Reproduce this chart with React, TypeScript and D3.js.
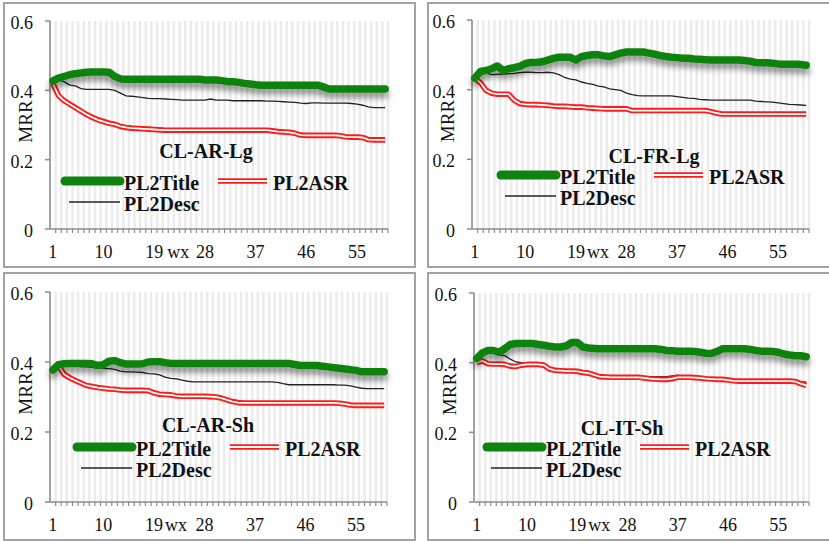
import React from "react";
import * as d3 from "d3";

// x categories (rank cut-off) and tick labels
const categories = d3.range(1, 61);
const xTickLabels = [1, 10, 19, 28, 37, 46, 55];
const yTicks = [0, 0.2, 0.4, 0.6];
const panelTitles = ["CL-AR-Lg", "CL-FR-Lg", "CL-AR-Sh", "CL-IT-Sh"];

// CL-AR-Lg
const arLgTitle = [
  0.427, 0.435, 0.44, 0.445, 0.448, 0.45, 0.452, 0.453, 0.453, 0.453,
  0.452, 0.44, 0.433, 0.432, 0.432, 0.432, 0.432, 0.432, 0.432, 0.432,
  0.432, 0.432, 0.432, 0.432, 0.432, 0.432, 0.432, 0.43, 0.43, 0.43,
  0.428, 0.425, 0.425, 0.423, 0.42, 0.418, 0.416, 0.415, 0.415, 0.415,
  0.415, 0.415, 0.415, 0.415, 0.415, 0.415, 0.415, 0.415, 0.41, 0.404,
  0.404, 0.404, 0.404, 0.404, 0.404, 0.404, 0.404, 0.404, 0.404, 0.404,
];
const arLgAsr = [
  0.42, 0.385, 0.37, 0.36, 0.35, 0.34, 0.33, 0.322, 0.315, 0.31,
  0.305, 0.302, 0.296, 0.293, 0.291, 0.29, 0.289, 0.288, 0.287, 0.286,
  0.285, 0.285, 0.285, 0.285, 0.285, 0.285, 0.285, 0.285, 0.285, 0.285,
  0.285, 0.285, 0.285, 0.285, 0.285, 0.285, 0.285, 0.285, 0.285, 0.283,
  0.281, 0.28, 0.279, 0.276, 0.271, 0.27, 0.27, 0.27, 0.27, 0.27,
  0.27, 0.269, 0.266, 0.265, 0.265, 0.264, 0.258, 0.257, 0.257, 0.257,
];
const arLgDesc = [
  0.425, 0.43, 0.425, 0.415, 0.413, 0.405, 0.403, 0.403, 0.403, 0.403,
  0.403, 0.4, 0.392, 0.384, 0.383, 0.381, 0.379, 0.377, 0.376, 0.376,
  0.375, 0.374, 0.373, 0.372, 0.372, 0.372, 0.372, 0.372, 0.375, 0.372,
  0.372, 0.372, 0.37, 0.37, 0.37, 0.37, 0.37, 0.37, 0.369, 0.369,
  0.368, 0.367, 0.366, 0.365, 0.363, 0.362, 0.364, 0.364, 0.363, 0.363,
  0.363, 0.363, 0.363, 0.362, 0.36, 0.357, 0.352, 0.35, 0.35, 0.35,
];

// CL-FR-Lg
const frLgTitle = [
  0.433, 0.452, 0.455, 0.46, 0.468, 0.455, 0.46, 0.463, 0.467, 0.475,
  0.478, 0.478, 0.48, 0.485, 0.49, 0.493, 0.493, 0.493, 0.485, 0.495,
  0.498, 0.5, 0.5, 0.497, 0.495, 0.5, 0.505, 0.508, 0.508, 0.508,
  0.508, 0.505, 0.502, 0.498, 0.495, 0.493, 0.492, 0.49, 0.49, 0.488,
  0.487, 0.486, 0.485, 0.485, 0.485, 0.485, 0.485, 0.485, 0.484, 0.482,
  0.478, 0.477, 0.477, 0.476, 0.474, 0.473, 0.473, 0.473, 0.472, 0.47,
];
const frLgAsr = [
  0.433, 0.42, 0.398, 0.39, 0.387, 0.387, 0.387, 0.37, 0.36, 0.358,
  0.357, 0.357, 0.356, 0.355, 0.353, 0.352, 0.352, 0.351, 0.35, 0.35,
  0.348, 0.347, 0.346, 0.345, 0.345, 0.345, 0.345, 0.345, 0.34, 0.34,
  0.34, 0.34, 0.34, 0.34, 0.34, 0.34, 0.34, 0.34, 0.34, 0.34,
  0.34, 0.34, 0.337, 0.333, 0.33, 0.33, 0.33, 0.33, 0.33, 0.33,
  0.33, 0.33, 0.33, 0.33, 0.33, 0.33, 0.33, 0.33, 0.33, 0.33,
];
const frLgDesc = [
  0.44, 0.453, 0.448, 0.443, 0.444, 0.445, 0.446, 0.447, 0.449, 0.45,
  0.45, 0.449, 0.449, 0.45, 0.448, 0.443, 0.435, 0.43, 0.428, 0.422,
  0.418, 0.415, 0.41, 0.408, 0.402, 0.4, 0.398, 0.39, 0.386, 0.383,
  0.382, 0.382, 0.382, 0.382, 0.382, 0.382, 0.38, 0.378, 0.376, 0.375,
  0.372, 0.371, 0.37, 0.37, 0.37, 0.37, 0.37, 0.37, 0.37, 0.37,
  0.367, 0.366, 0.365, 0.364, 0.362, 0.36, 0.358, 0.357, 0.356, 0.355,
];

// CL-AR-Sh
const arShTitle = [
  0.377, 0.392, 0.395, 0.396, 0.396, 0.396, 0.396, 0.395, 0.39, 0.392,
  0.402, 0.404, 0.398, 0.394, 0.394, 0.394, 0.395, 0.4, 0.401, 0.401,
  0.398, 0.396, 0.396, 0.396, 0.396, 0.396, 0.396, 0.396, 0.396, 0.396,
  0.396, 0.396, 0.396, 0.396, 0.396, 0.396, 0.396, 0.396, 0.396, 0.396,
  0.396, 0.396, 0.396, 0.393, 0.39, 0.39, 0.39, 0.39, 0.388, 0.386,
  0.384, 0.382, 0.38, 0.378, 0.376, 0.372, 0.372, 0.372, 0.372, 0.372,
];
const arShAsr = [
  0.38, 0.39, 0.365, 0.355, 0.347, 0.34, 0.333, 0.33, 0.327, 0.325,
  0.323, 0.322, 0.32, 0.319, 0.319, 0.319, 0.319, 0.318, 0.312, 0.308,
  0.307, 0.306, 0.303, 0.302, 0.302, 0.302, 0.302, 0.302, 0.301, 0.3,
  0.297, 0.292, 0.287, 0.284, 0.283, 0.283, 0.283, 0.283, 0.283, 0.283,
  0.283, 0.283, 0.283, 0.283, 0.283, 0.283, 0.283, 0.283, 0.283, 0.283,
  0.283, 0.282, 0.28, 0.277, 0.276, 0.276, 0.276, 0.276, 0.276, 0.276,
];
const arShDesc = [
  0.38, 0.398, 0.39, 0.388, 0.388, 0.387, 0.386, 0.385, 0.382, 0.382,
  0.381, 0.379, 0.374, 0.372, 0.372, 0.371, 0.37, 0.367, 0.366, 0.363,
  0.357, 0.353, 0.352, 0.348, 0.345, 0.343, 0.343, 0.343, 0.343, 0.343,
  0.343, 0.343, 0.343, 0.343, 0.343, 0.343, 0.343, 0.343, 0.343, 0.343,
  0.342, 0.338, 0.335, 0.335, 0.335, 0.335, 0.335, 0.335, 0.335, 0.335,
  0.335, 0.334, 0.334, 0.332, 0.328, 0.325, 0.324, 0.324, 0.324, 0.324,
];

// CL-IT-Sh
const itShTitle = [
  0.412, 0.428, 0.435, 0.435, 0.43, 0.44, 0.452, 0.455, 0.455, 0.455,
  0.455, 0.452, 0.45, 0.447, 0.445, 0.445, 0.448, 0.458, 0.458, 0.445,
  0.442, 0.441, 0.44, 0.44, 0.44, 0.44, 0.44, 0.44, 0.44, 0.44,
  0.44, 0.44, 0.44, 0.438, 0.435, 0.434, 0.433, 0.433, 0.433, 0.432,
  0.43, 0.427, 0.426, 0.432, 0.44, 0.44, 0.44, 0.44, 0.44, 0.438,
  0.435, 0.433, 0.433, 0.432, 0.43, 0.425, 0.422, 0.42, 0.42, 0.417,
];
const itShAsr = [
  0.4, 0.405, 0.397, 0.396, 0.396, 0.395, 0.39, 0.389, 0.393, 0.395,
  0.395, 0.395, 0.393, 0.382, 0.378, 0.377, 0.376, 0.376, 0.375, 0.372,
  0.37, 0.365, 0.36, 0.359, 0.358, 0.358, 0.358, 0.358, 0.358, 0.358,
  0.356, 0.354, 0.353, 0.352, 0.352, 0.354, 0.358, 0.358, 0.358, 0.357,
  0.356, 0.354, 0.353, 0.352, 0.352, 0.35, 0.348, 0.347, 0.347, 0.347,
  0.347, 0.347, 0.347, 0.347, 0.347, 0.347, 0.347, 0.346, 0.34, 0.335,
];
const itShDesc = [
  0.405, 0.42, 0.428, 0.427, 0.422, 0.42, 0.41, 0.402, 0.4, 0.398,
  0.395, 0.392, 0.39, 0.385, 0.382, 0.38, 0.376, 0.374, 0.372, 0.37,
  0.367, 0.366, 0.365, 0.363, 0.36, 0.36, 0.36, 0.36, 0.36, 0.36,
  0.36, 0.36, 0.36, 0.36, 0.36, 0.362, 0.364, 0.356, 0.355, 0.354,
  0.353, 0.352, 0.35, 0.35, 0.348, 0.347, 0.345, 0.345, 0.345, 0.345,
  0.345, 0.345, 0.345, 0.345, 0.345, 0.345, 0.345, 0.345, 0.345, 0.345,
];

const GREEN = "#0f820f";
const RED = "#ff1a1a";
const AXIS = "#8c8c8c";
const serif = "'Liberation Serif', 'Times New Roman', serif";

const panels = [
  { title: panelTitles[0], lines: [arLgTitle, arLgAsr, arLgDesc], box: [4, 3, 415, 267], x0: 50, x1: 388, yTop: 21, yBot: 229, tx: 206, ty: 158, lx: 65, ly: 181, wx: 24 },
  { title: panelTitles[1], lines: [frLgTitle, frLgAsr, frLgDesc], box: [428, 3, 835, 267], x0: 472, x1: 809, yTop: 20, yBot: 229, tx: 654, ty: 163, lx: 501, ly: 175, wx: 22 },
  { title: panelTitles[2], lines: [arShTitle, arShAsr, arShDesc], box: [4, 273, 415, 540], x0: 50, x1: 387, yTop: 292, yBot: 502, tx: 208, ty: 432, lx: 77, ly: 447, wx: 22 },
  { title: panelTitles[3], lines: [itShTitle, itShAsr, itShDesc], box: [428, 273, 835, 540], x0: 474, x1: 809, yTop: 293, yBot: 502, tx: 622, ty: 435, lx: 487, ly: 447, wx: 22 },
];

function Panel({ p, idx }: { p: (typeof panels)[number]; idx: number }) {
  const x = d3.scaleBand<number>().domain(categories).range([p.x0, p.x1]);
  const bw = x.bandwidth();
  const cx = (c: number) => (x(c) as number) + bw / 2;
  const y = d3.scaleLinear().domain([0, 0.6]).range([p.yBot, p.yTop]);
  const line = d3
    .line<number>()
    .x((_, i) => cx(categories[i]))
    .y((d) => y(d));

  const [title, asr, desc] = p.lines;
  const [bx0, by0, bx1, by1] = p.box;
  const { lx, ly } = p;

  return (
    <g>
      <rect x={bx0} y={by0} width={bx1 - bx0} height={by1 - by0} fill="#fff" stroke="#a3a3a3" strokeWidth={2} />
      {/* vertical stripes */}
      {categories.map((c) => (
        <line key={c} x1={(x(c) as number) + bw} x2={(x(c) as number) + bw} y1={p.yTop} y2={p.yBot} stroke="#ebebeb" strokeWidth={2.4} />
      ))}
      {/* y axis */}
      <line x1={p.x0} x2={p.x0} y1={p.yTop} y2={p.yBot} stroke={AXIS} strokeWidth={1.6} />
      {yTicks.map((t) => (
        <g key={t}>
          <line x1={p.x0 - 5} x2={p.x0} y1={y(t)} y2={y(t)} stroke={AXIS} strokeWidth={1.5} />
          <text x={p.x0 - 17} y={y(t) + 8} textAnchor="end" fontFamily={serif} fontSize={18} fill="#111">
            {String(t)}
          </text>
        </g>
      ))}
      <text
        transform={`translate(${p.x0 - 18},${y(0.31)}) rotate(-90)`}
        textAnchor="middle"
        fontFamily={serif}
        fontSize={19}
        fill="#111"
      >
        MRR
      </text>
      {/* x axis */}
      <line x1={p.x0} x2={p.x1} y1={p.yBot} y2={p.yBot} stroke={AXIS} strokeWidth={1.6} />
      {categories.map((c) => (
        <line key={c} x1={(x(c) as number) + bw} x2={(x(c) as number) + bw} y1={p.yBot} y2={p.yBot + 4} stroke={AXIS} strokeWidth={1.2} />
      ))}
      {xTickLabels.map((t) => (
        <text key={t} x={cx(t)} y={p.yBot + 29} textAnchor="middle" fontFamily={serif} fontSize={18} fill="#111">
          {t}
        </text>
      ))}
      <text x={cx(19) + p.wx} y={p.yBot + 29} textAnchor="middle" fontFamily={serif} fontSize={18} fill="#111">
        wx
      </text>
      {/* series */}
      <path d={line(desc) as string} fill="none" stroke="#222" strokeWidth={1.3} />
      <path d={line(asr) as string} fill="none" stroke={RED} strokeWidth={5.6} strokeLinejoin="round" />
      <path d={line(asr) as string} fill="none" stroke="#fff" strokeWidth={1.8} strokeLinejoin="round" />
      <path
        d={line(title) as string}
        fill="none"
        stroke={GREEN}
        strokeWidth={7.5}
        strokeLinecap="round"
        strokeLinejoin="round"
        filter={`url(#shadow${idx})`}
      />
      {/* panel title */}
      <text x={p.tx} y={p.ty} textAnchor="middle" fontFamily={serif} fontWeight="bold" fontSize={20} fill="#111">
        {p.title}
      </text>
      {/* legend */}
      <line x1={lx} x2={lx + 55} y1={ly} y2={ly} stroke={GREEN} strokeWidth={9} strokeLinecap="round" />
      <text x={lx + 59} y={ly + 9} fontFamily={serif} fontWeight="bold" fontSize={20} fill="#111">PL2Title</text>
      <line x1={lx + 153} x2={lx + 202} y1={ly} y2={ly} stroke={RED} strokeWidth={5.6} />
      <line x1={lx + 153} x2={lx + 202} y1={ly} y2={ly} stroke="#fff" strokeWidth={1.8} />
      <text x={lx + 208} y={ly + 9} fontFamily={serif} fontWeight="bold" fontSize={20} fill="#111">PL2ASR</text>
      <line x1={lx + 4} x2={lx + 55} y1={ly + 21} y2={ly + 21} stroke="#222" strokeWidth={1.3} />
      <text x={lx + 59} y={ly + 30} fontFamily={serif} fontWeight="bold" fontSize={20} fill="#111">PL2Desc</text>
    </g>
  );
}

export default function App() {
  return (
    <svg width={829} height={543} style={{ position: "absolute", left: 0, top: 0, background: "#fff" }}>
      <defs>
        {panels.map((_, i) => (
          <filter key={i} id={`shadow${i}`} x="-10%" y="-80%" width="120%" height="360%">
            <feDropShadow dx={0} dy={5} stdDeviation={3} floodColor="#000" floodOpacity={0.45} />
          </filter>
        ))}
      </defs>
      {panels.map((p, i) => (
        <Panel key={p.title} p={p} idx={i} />
      ))}
    </svg>
  );
}
